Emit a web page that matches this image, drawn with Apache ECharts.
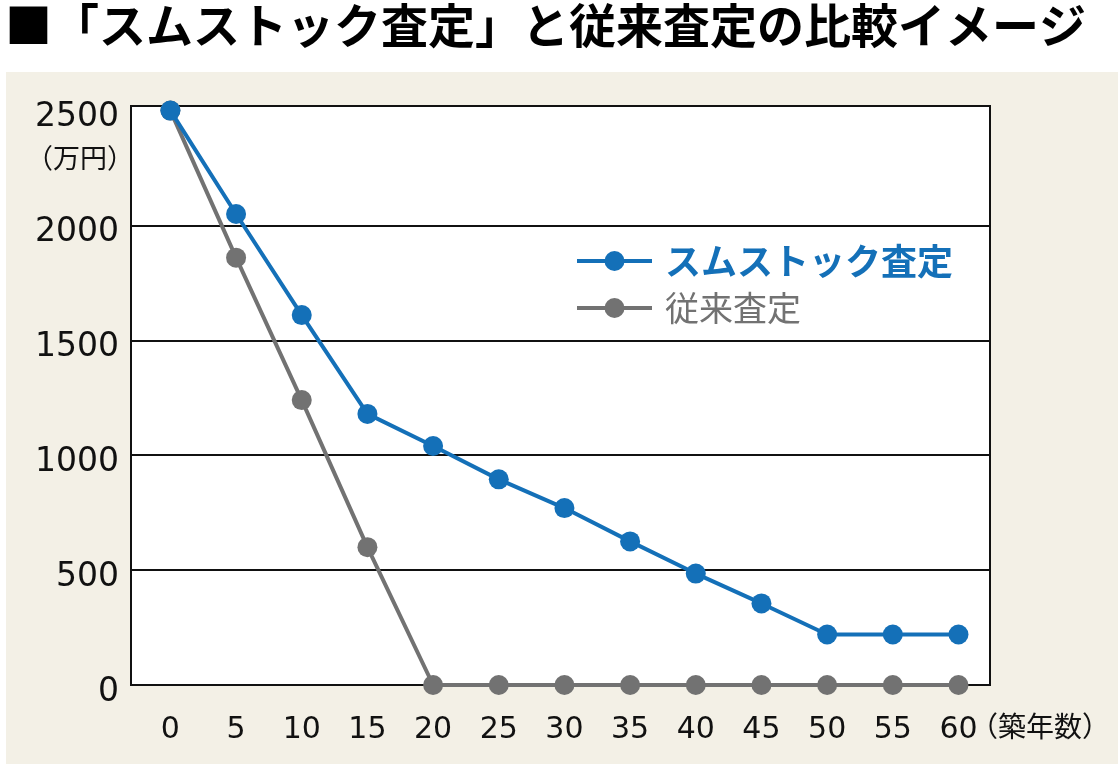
<!DOCTYPE html>
<html lang="ja">
<head>
  <meta charset="UTF-8">
  <title>スムストック査定と従来査定の比較イメージ</title>
  <style>
    html, body { margin: 0; padding: 0; background: #fff; }
    #chart { width: 1119px; height: 766px; }
  </style>
  <script src="https://cdn.jsdelivr.net/npm/echarts@6/dist/echarts.min.js"></script>
</head>
<body>
  <div id="chart"></div>
</body>
</html>
<script>
  // 築年数
  var years = [0, 5, 10, 15, 20, 25, 30, 35, 40, 45, 50, 55, 60];
  // 査定額（万円）
  var smstock = [2500, 2050, 1610, 1180, 1040, 895, 770, 625, 485, 355, 220, 220, 220];
  var conventional = [2500, 1860, 1240, 600, 0, 0, 0, 0, 0, 0, 0, 0, 0];
  var yTicks = [0, 500, 1000, 1500, 2000, 2500];
  var yLines = [0, 500, 1000, 1500, 2000];

  var BLUE = '#1470b8';
  var GRAY = '#727272';
  var numFont = 'DejaVu Sans';
  var jpFont = 'Noto Sans CJK JP';

  function pairs(vals) {
    return years.map(function (y, i) { return [y, vals[i]]; });
  }

  var myChart = echarts.init(document.getElementById('chart'));
  var option = {
    animation: false,
    title: {
      text: '■「スムストック査定」と従来査定の比較イメージ',
      left: 0,
      top: -3,
      textStyle: { fontFamily: jpFont, fontSize: 47, fontWeight: 'bold', color: '#000' }
    },
    graphic: [
      {
        type: 'rect',
        z: -10,
        shape: { x: 6, y: 72, width: 1112, height: 692 },
        style: { fill: '#f3f0e6' }
      },
      {
        // 単位
        type: 'text',
        x: 134,
        y: 158,
        style: { text: '（万円）', fontFamily: jpFont, fontSize: 27, fill: '#111', align: 'right', verticalAlign: 'middle' }
      },
      {
        type: 'text',
        x: 970,
        y: 726,
        style: { text: '（築年数）', fontFamily: jpFont, fontSize: 28, fill: '#111', align: 'left', verticalAlign: 'middle' }
      }
    ],
    legend: {
      orient: 'vertical',
      left: 570,
      top: 235,
      itemWidth: 75,
      itemHeight: 25,
      itemGap: 5,
      lineStyle: { width: 4 },
      data: [
        { name: 'スムストック査定', textStyle: { color: BLUE, fontWeight: 'bold', fontSize: 36 } },
        { name: '従来査定', textStyle: { color: GRAY, fontWeight: 'normal', fontSize: 34 } }
      ],
      textStyle: { fontFamily: jpFont, lineHeight: 42, padding: [0, 0, 0, 8] }
    },
    grid: {
      left: 131,
      right: 129,
      top: 106,
      bottom: 81,
      show: true,
      backgroundColor: '#fff',
      borderColor: '#111',
      borderWidth: 2
    },
    xAxis: {
      type: 'value',
      min: -3,
      max: 62.4,
      axisLine: { show: false },
      axisTick: { show: false },
      splitLine: { show: false },
      axisLabel: {
        customValues: years,
        margin: 30,
        fontFamily: numFont,
        fontSize: 30,
        color: '#111'
      }
    },
    yAxis: {
      type: 'value',
      min: 0,
      max: 2520,
      axisLine: { show: false },
      axisTick: { show: false, customValues: yLines },
      splitLine: { show: true, lineStyle: { color: '#111', width: 2 } },
      axisLabel: {
        customValues: yTicks,
        formatter: function (v) { return String(v); },
        margin: 12,
        fontFamily: numFont,
        fontSize: 33,
        color: '#111',
        verticalAlign: 'top',
        lineHeight: 14
      }
    },
    series: [
      {
        name: '従来査定',
        type: 'line',
        data: pairs(conventional),
        color: GRAY,
        symbol: 'circle',
        symbolSize: 20,
        lineStyle: { width: 4, color: GRAY },
        itemStyle: { color: GRAY },
        z: 3
      },
      {
        name: 'スムストック査定',
        type: 'line',
        data: pairs(smstock),
        color: BLUE,
        symbol: 'circle',
        symbolSize: 20,
        lineStyle: { width: 4, color: BLUE },
        itemStyle: { color: BLUE },
        z: 4
      }
    ]
  };
  myChart.setOption(option);
</script>
